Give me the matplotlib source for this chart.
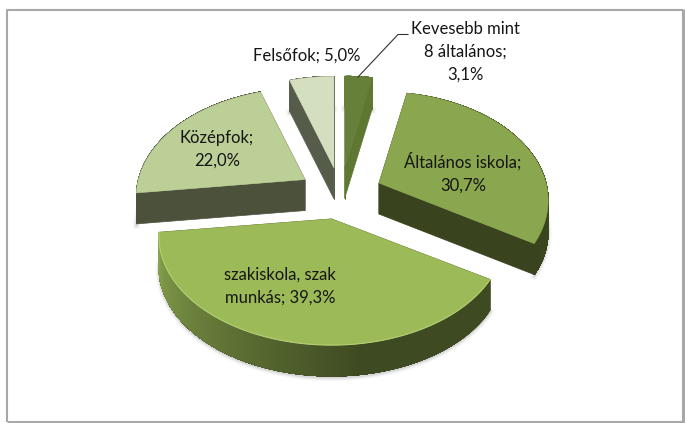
import numpy as np
import matplotlib
matplotlib.use('Agg')
import matplotlib.pyplot as plt
from matplotlib.colors import to_rgb

# Data (clockwise from 12 o'clock)
categories = ['Kevesebb mint\n8 általános;\n3,1%', 'Általános iskola;\n30,7%',
              'szakiskola, szak\nmunkás; 39,3%', 'Középfok;\n22,0%', 'Felsőfok; 5,0%']
values = [3.1, 30.7, 39.3, 22.0, 5.0]

top_colors = ['#66803A', '#8AA64E', '#9CBB58', '#BBCF96', '#D3DFBE']
radial_colors = ['#5F7831', '#39431E', '#3E4A22', '#4B513A', '#565C4A']
outer_light = ['#5F7831', '#4A5628', '#8AA64E', '#4B513A', '#565C4A']
outer_dark = ['#5F7831', '#39431E', '#3E4A22', '#4B513A', '#565C4A']

# Geometry in pixels
CX, CY = 340.5, 193.5
EXPLODE_X, EXPLODE_Y = 42, 26
R, KR = 168, 106
PERSP = 0.16
DEPTH = 31


def disc_point(theta, apex, scale=1.0):
    # theta in degrees, clockwise from top, with a bit of perspective
    x = np.sin(np.radians(theta))
    y = np.cos(np.radians(theta))
    f = 1 / (1 + PERSP * y)
    return apex[0] + R * scale * x * f, apex[1] - KR * y * f


def mix(c1, c2, t):
    a, b = np.array(to_rgb(c1)), np.array(to_rgb(c2))
    return tuple(a * (1 - t) + b * t)


fig = plt.figure(figsize=(6.85, 4.23), dpi=100)
ax = fig.add_axes([0, 0, 1, 1])
ax.set_xlim(0, 685)
ax.set_ylim(423, 0)
ax.axis('off')

# Frame
ax.plot([7, 7, 683], [422, 10, 10], color='#A8A8A8', lw=1.5, solid_capstyle='butt')
ax.plot([683.5, 683.5, 7], [9, 422, 422], color='#A8A8A8', lw=2.2, solid_capstyle='butt')

edges = 360 * np.cumsum([0] + values) / sum(values)
slices = []
for i in range(len(values)):
    start, end = edges[i], edges[i + 1]
    mid = np.radians((start + end) / 2)
    apex = (CX + EXPLODE_X * np.sin(mid), CY - EXPLODE_Y * np.cos(mid))
    slices.append((i, start, end, apex, 1 - 0.015 * np.cos(mid)))

# back slices first, the big front one last
for i, start, end, apex, scale in [slices[4], slices[0], slices[3], slices[1], slices[2]]:
    thetas = np.linspace(start, end, 120)
    xs, ys = disc_point(thetas, apex, scale)

    # soft shadow along the underside
    for lw, alpha in [(5, 0.05), (3, 0.08), (1.5, 0.12)]:
        ax.plot(xs, ys + DEPTH + 1.5, color='#555555', lw=lw, alpha=alpha, zorder=1)

    # radial walls
    for th in (start, end):
        px, py = disc_point(th, apex, scale)
        ax.fill([apex[0], px, px, apex[0]],
                [apex[1], py, py + DEPTH, apex[1] + DEPTH],
                color=radial_colors[i], lw=0.5, zorder=2)

    # outer wall, overlapping strips so the shading changes without seams
    for k in range(len(thetas) - 1):
        if i == 2:
            t = np.clip((thetas[k] - 171) / (end - 171), 0, 1)
            c = mix(outer_dark[i], outer_light[i], t)
        else:
            c = mix(outer_light[i], outer_dark[i], k / (len(thetas) - 2))
        ax.fill(np.r_[xs[k:], xs[k:][::-1]], np.r_[ys[k:], ys[k:][::-1] + DEPTH],
                color=c, lw=0.5, zorder=2)

    # top face
    ax.fill(np.r_[apex[0], xs], np.r_[apex[1], ys], color=top_colors[i], lw=0.4, zorder=3)
    if i == 2:
        ax.plot(xs, ys, color='#B4CF72', lw=0.8, zorder=3)

# Labels
font = dict(family='Lato', fontsize=12, color='#151515', ha='center', va='center',
            linespacing=1.5, zorder=5)
ax.text(465, 52, categories[0], **font)
ax.text(463, 173, categories[1], **font)
ax.text(280, 286, categories[2], **font)
ax.text(217, 149, categories[3], **font)
ax.text(307, 56, categories[4], **font)

# Leader line for the smallest slice
ax.plot([358, 398, 408], [77, 34.5, 34.5], color='#333333', lw=0.8, zorder=4)

fig.savefig('out.png', dpi=100)
